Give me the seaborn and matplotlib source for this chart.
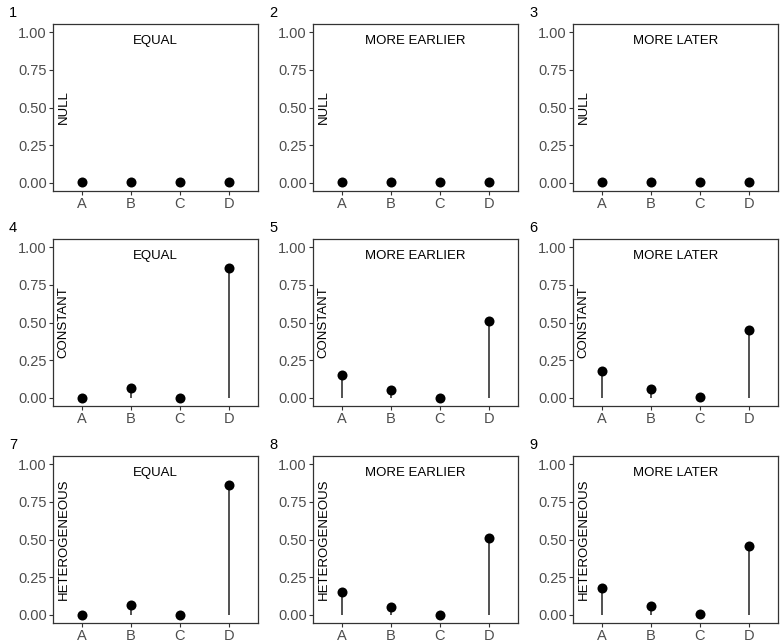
import numpy as np
import pandas as pd
import matplotlib.pyplot as plt
import seaborn as sns

sns.set_style("white")
plt.rcParams['font.family'] = ['Liberation Sans', 'DejaVu Sans']

# Data
categories = ["A", "B", "C", "D"]
col_titles = ["EQUAL", "MORE EARLIER", "MORE LATER"]
row_titles = ["NULL", "CONSTANT", "HETEROGENEOUS"]

null_equal = [0.005, 0.005, 0.005, 0.005]
null_earlier = [0.005, 0.005, 0.005, 0.005]
null_later = [0.005, 0.005, 0.005, 0.005]
const_equal = [0.0, 0.065, 0.0, 0.86]
const_earlier = [0.15, 0.05, 0.0, 0.51]
const_later = [0.18, 0.06, 0.005, 0.45]
het_equal = [0.0, 0.065, 0.0, 0.86]
het_earlier = [0.15, 0.05, 0.0, 0.51]
het_later = [0.175, 0.06, 0.005, 0.46]

values = [[null_equal, null_earlier, null_later],
          [const_equal, const_earlier, const_later],
          [het_equal, het_earlier, het_later]]

W, H = 780, 643
fig = plt.figure(figsize=(W / 100, H / 100), dpi=100)

lefts = [53, 313, 573]
tops = [24, 239, 456]
aw, ah = 205, 167

n = 1
for r in range(3):
    for c in range(3):
        ax = fig.add_axes([lefts[c] / W, 1 - (tops[r] + ah) / H, aw / W, ah / H])
        df = pd.DataFrame({"cat": categories, "val": values[r][c]})
        # lollipop stems
        ax.vlines(df["cat"], 0, df["val"], color="#222222", lw=1.1, zorder=1)
        sns.scatterplot(data=df, x="cat", y="val", ax=ax, color="black",
                        s=52, edgecolor="black", linewidth=0, zorder=2)
        ax.set_xlim(-0.6, 3.6)
        ax.set_ylim(-0.055, 1.055)
        ax.set_yticks([0, 0.25, 0.5, 0.75, 1.0])
        ax.set_yticklabels(["0.00", "0.25", "0.50", "0.75", "1.00"])
        ax.set_xlabel("")
        ax.set_ylabel("")
        ax.tick_params(axis="both", bottom=True, left=True, direction="out",
                       length=3, width=0.8, color="#333333", labelsize=10.5,
                       labelcolor="#4D4D4D", pad=1.5)
        for sp in ax.spines.values():
            sp.set_color("#333333")
            sp.set_linewidth(0.9)
        ax.text(1.5, 0.985, col_titles[c], ha="center", va="top", fontsize=9.5, color="black")
        ax.text(-0.38, 0.5, row_titles[r], rotation=90, ha="center", va="center",
                fontsize=9.5, color="black")
        fig.text((lefts[c] - 44) / W, 1 - (tops[r] - 11) / H, str(n),
                 ha="left", va="center", fontsize=10.5, color="black")
        n += 1

fig.savefig("out.png", dpi=100)
